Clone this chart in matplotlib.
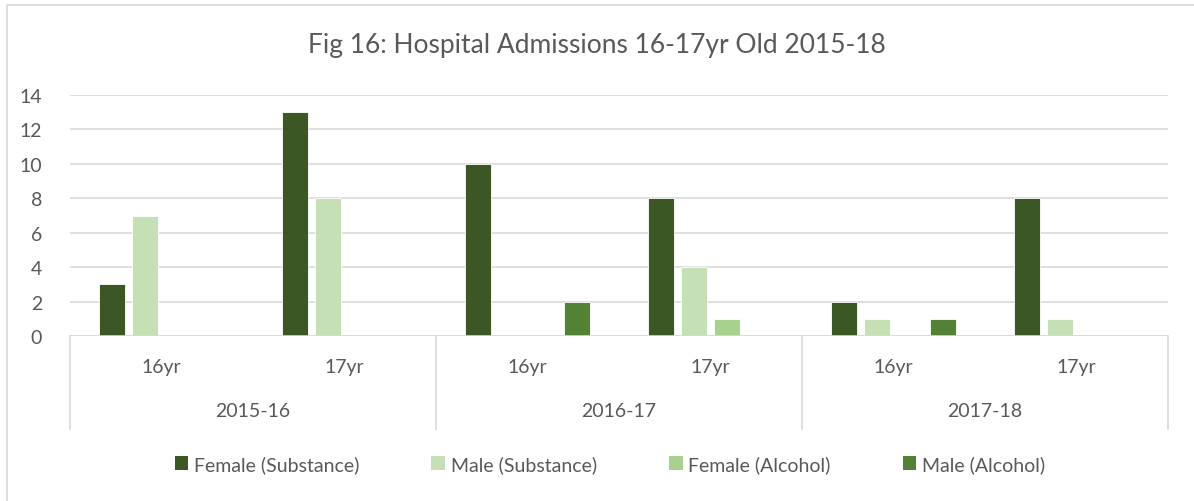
import matplotlib
matplotlib.use("Agg")
import matplotlib.pyplot as plt
import matplotlib.transforms as mtransforms
from matplotlib.patches import Rectangle
from matplotlib.lines import Line2D
import numpy as np

plt.rcParams['font.family'] = ['Lato', 'DejaVu Sans']

title = "Fig 16: Hospital Admissions 16-17yr Old 2015-18"
years = ["2015-16", "2016-17", "2017-18"]
ages = ["16yr", "17yr"]
series_names = ["Female (Substance)", "Male (Substance)", "Female (Alcohol)", "Male (Alcohol)"]
female_substance = [3, 13, 10, 8, 2, 8]
male_substance = [7, 8, 0, 4, 1, 1]
female_alcohol = [0, 0, 0, 1, 0, 0]
male_alcohol = [0, 0, 2, 0, 1, 0]
colors = ["#3B5723", "#C5E0B4", "#A9D18E", "#548235"]
yticks = [0, 2, 4, 6, 8, 10, 12, 14]

W, H = 1194, 502
fig = plt.figure(figsize=(W / 100, H / 100), dpi=100)
fig.patch.set_facecolor("white")

# outer chart border (right/bottom cut off in reference)
fig.add_artist(Rectangle((7 / W, -0.1), 1.2, 1 - 6 / H + 0.1, transform=fig.transFigure,
                         fill=False, edgecolor="#D9D9D9", linewidth=1.2))

left, right = 70 / W, 1168 / W
bottom, top = 1 - 337 / H, 1 - 96 / H
ax = fig.add_axes([left, bottom, right - left, top - bottom])

all_series = [female_substance, male_substance, female_alcohol, male_alcohol]
n = len(female_substance)
x = np.arange(n)
bw = 26 / 183
pitch = 33 / 183
for k, (vals, name, c) in enumerate(zip(all_series, series_names, colors)):
    ax.bar(x + (k - 1.5) * pitch, vals, width=bw, color=c, edgecolor="white",
           linewidth=0.6, label=name, zorder=2)

fs = 14
ax.set_xlim(-0.5, n - 0.5)
ax.set_ylim(0, 14)
ax.set_yticks(yticks)
ax.set_yticklabels([str(t) for t in yticks], fontsize=fs, color="#595959")
ax.tick_params(axis='y', length=0, pad=20)
ax.tick_params(axis='x', length=0, labelbottom=False)
ax.grid(axis='y', color="#D9D9D9", linewidth=1.2, zorder=0)
ax.set_axisbelow(True)
for s in ax.spines.values():
    s.set_visible(False)
ax.axhline(0, color="#D9D9D9", linewidth=1.2, zorder=3)

trans = mtransforms.blended_transform_factory(ax.transData, ax.transAxes)
# category labels
for i in range(n):
    ax.text(x[i], -0.128, ages[i % 2], transform=trans, ha="center", va="center",
            fontsize=fs, color="#595959")
for j, yr in enumerate(years):
    ax.text(2 * j + 0.5, -0.31, yr, transform=trans, ha="center", va="center",
            fontsize=fs, color="#595959")
# separators
for b in [-0.5, 1.5, 3.5, 5.5]:
    ax.add_line(Line2D([b, b], [0, -0.386], transform=trans, color="#D9D9D9",
                       linewidth=1.2, clip_on=False))

fig.text(0.5, 1 - 45 / H, title, ha="center", va="center", fontsize=19, color="#595959")

handles, labels = ax.get_legend_handles_labels()
leg = fig.legend(handles, labels, loc="center", bbox_to_anchor=(610 / W, 1 - 465 / H),
                 ncol=4, frameon=False, fontsize=fs, handlelength=0.7, handleheight=0.7,
                 handletextpad=0.3, columnspacing=3.7, labelcolor="#595959")
for h in leg.legend_handles:
    h.set_edgecolor("none")

fig.savefig("out.png", dpi=100, facecolor="white")
